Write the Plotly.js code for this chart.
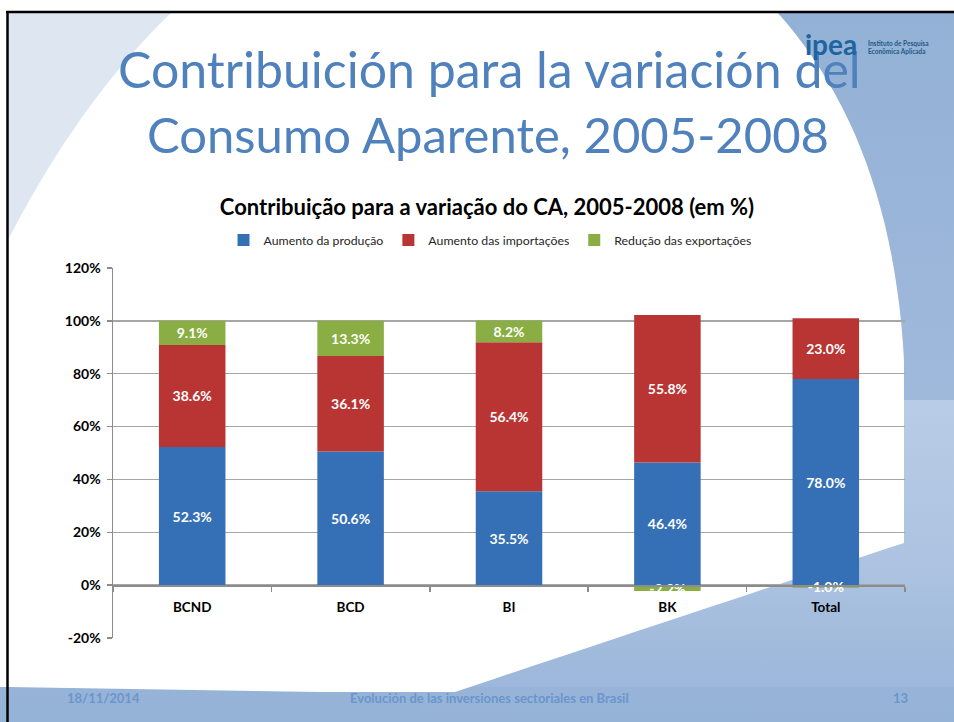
<!DOCTYPE html>
<html>
<head>
<meta charset="utf-8">
<script src="https://cdn.plot.ly/plotly-3.0.1.min.js"></script>
<style>
  html, body { margin: 0; padding: 0; background: #ffffff; }
  #chart { width: 954px; height: 722px; }
</style>
</head>
<body>
<div id="chart"></div>
<script>
// ---- Data ----
const categories = ['BCND', 'BCD', 'BI', 'BK', 'Total'];
const seriesNames = ['Aumento da produção', 'Aumento das importações', 'Redução das exportações'];
const producao = [52.3, 50.6, 35.5, 46.4, 78.0];
const importacoes = [38.6, 36.1, 56.4, 55.8, 23.0];
const exportacoes = [9.1, 13.3, 8.2, -2.2, -1.0];
const yTickValues = [-20, 0, 20, 40, 60, 80, 100, 120];

// ---- Styling / geometry ----
const FONT = 'Lato, Carlito, Calibri, "Open Sans", sans-serif';
const colors = ['#3570b7', '#b83534', '#8aae43'];
const L = 113, R = 905, T = 268, B = 638;
const px = x => (x - L) / (R - L);
const py = y => (B - y) / (B - T);

// ---- slide background (decoration) as an SVG image ----
function quad(p0, c, p1, n) {
  const pts = [];
  for (let i = 1; i <= n; i++) {
    const t = i / n, u = 1 - t;
    pts.push([u * u * p0[0] + 2 * u * t * c[0] + t * t * p1[0],
              u * u * p0[1] + 2 * u * t * c[1] + t * t * p1[1]]);
  }
  return pts;
}
const d = pts => 'M' + pts.map(p => p[0].toFixed(1) + ' ' + p[1].toFixed(1)).join(' L') + ' Z';

const wedgePts = [[904, 400], [954, 400], [954, 722], [420, 722], [420, 692]]
  .concat([[455, 692]]).concat(quad([455, 692], [700, 610], [904, 543], 24));
const whitePts = [[0, 0], [954, 0], [954, 12], [777, 12]]
  .concat(quad([777, 12], [892, 140], [904, 360], 24))
  .concat([[904, 543]])
  .concat(quad([904, 543], [700, 610], [455, 692], 24))
  .concat([[320, 692], [8, 687], [0, 687]]);
const leftPts = [[8, 12], [172, 12]].concat(quad([172, 12], [80, 100], [8, 240], 24));

const svg =
  "<svg xmlns='http://www.w3.org/2000/svg' width='954' height='722' viewBox='0 0 954 722'>" +
  "<defs>" +
  "<linearGradient id='gR' x1='0' y1='0' x2='0' y2='1'>" +
  "<stop offset='0' stop-color='#93b1d6'/><stop offset='0.55' stop-color='#9fb9db'/>" +
  "<stop offset='0.8' stop-color='#a9c0df'/><stop offset='1' stop-color='#95b3d7'/></linearGradient>" +
  "<linearGradient id='gW' x1='0' y1='0' x2='0' y2='1'>" +
  "<stop offset='0' stop-color='#b9cce6'/><stop offset='0.5' stop-color='#adc3e1'/>" +
  "<stop offset='1' stop-color='#97b4d8'/></linearGradient>" +
  "</defs>" +
  "<rect x='0' y='0' width='954' height='722' fill='url(#gR)'/>" +
  "<path d='" + d(wedgePts) + "' fill='url(#gW)'/>" +
  "<rect x='0' y='687' width='954' height='35' fill='#95b3d7' opacity='0.6'/>" +
  "<path d='" + d(whitePts) + "' fill='#ffffff'/>" +
  "<path d='" + d(leftPts) + "' fill='#dde6f1'/>" +
  "<path d='M6 12 H954' stroke='#000000' stroke-width='2.5' fill='none'/>" +
  "<path d='M7.5 11 V722' stroke='#000000' stroke-width='2.5' fill='none'/>" +
  "</svg>";

function barTrace(name, values, color) {
  return {
    type: 'bar',
    name: name,
    x: categories,
    y: values,
    marker: { color: color, line: { width: 0 } },
    texttemplate: '<b>%{y:.1f}%</b>',
    textposition: 'inside',
    insidetextanchor: 'middle',
    constraintext: 'none',
    textfont: { family: FONT, size: 14, color: '#ffffff' },
    insidetextfont: { family: FONT, size: 14, color: '#ffffff' },
    hoverinfo: 'skip'
  };
}

const data = [
  barTrace(seriesNames[0], producao, colors[0]),
  barTrace(seriesNames[1], importacoes, colors[1]),
  barTrace(seriesNames[2], exportacoes, colors[2])
];

const annotations = [
  { text: 'Contribuición para la variación del', xref: 'paper', yref: 'paper',
    x: px(489), y: py(69), xanchor: 'center', yanchor: 'middle', showarrow: false,
    font: { family: FONT, size: 50, color: '#4f81bd' } },
  { text: 'Consumo Aparente, 2005-2008', xref: 'paper', yref: 'paper',
    x: px(488), y: py(134), xanchor: 'center', yanchor: 'middle', showarrow: false,
    font: { family: FONT, size: 49, color: '#4f81bd' } },
  { text: '<b>ipea</b>', xref: 'paper', yref: 'paper',
    x: px(831), y: py(44), xanchor: 'center', yanchor: 'middle', showarrow: false, borderpad: 0,
    font: { family: FONT, size: 28, color: '#1d64a0' } },
  { text: '<b>Instituto de Pesquisa<br>Econômica Aplicada</b>', xref: 'paper', yref: 'paper',
    x: px(867), y: py(47), xanchor: 'left', yanchor: 'middle', align: 'left', showarrow: false, borderpad: 0,
    font: { family: FONT, size: 6.5, color: '#1f5a86' } },
  { text: '<b>18/11/2014</b>', xref: 'paper', yref: 'paper',
    x: px(65), y: py(698), xanchor: 'left', yanchor: 'middle', showarrow: false,
    font: { family: FONT, size: 13, color: '#6b95cd' } },
  { text: '<b>Evolución de las inversiones sectoriales en Brasil</b>', xref: 'paper', yref: 'paper',
    x: px(489), y: py(698), xanchor: 'center', yanchor: 'middle', showarrow: false,
    font: { family: FONT, size: 13, color: '#6b95cd' } },
  { text: '<b>13</b>', xref: 'paper', yref: 'paper',
    x: px(900), y: py(698), xanchor: 'center', yanchor: 'middle', showarrow: false,
    font: { family: FONT, size: 13, color: '#6b95cd' } }
];

const layout = {
  width: 954, height: 722, autosize: false,
  margin: { l: L, r: 954 - R, t: T, b: 722 - B, pad: 0 },
  paper_bgcolor: '#ffffff',
  plot_bgcolor: 'rgba(0,0,0,0)',
  barmode: 'relative',
  bargap: 0.58,
  font: { family: FONT, color: '#000000' },
  title: {
    text: '<b>Contribuição para a variação do CA, 2005-2008 (em %)</b>',
    font: { family: FONT, size: 22, color: '#000000' },
    xref: 'container', yref: 'container',
    x: 487 / 954, y: 1 - 207 / 722, xanchor: 'center', yanchor: 'middle'
  },
  showlegend: true,
  legend: {
    orientation: 'h', x: px(490), xanchor: 'center', y: py(240), yanchor: 'middle',
    font: { family: FONT, size: 12.3, color: '#262626' }, bgcolor: 'rgba(0,0,0,0)',
    traceorder: 'normal', itemwidth: 30
  },
  xaxis: {
    type: 'category',
    anchor: 'free',
    position: 20 / 140,
    showline: true, linecolor: '#8c8c8c', linewidth: 1.5,
    ticks: 'outside', tickson: 'boundaries', ticklen: 5, tickcolor: '#8c8c8c', tickwidth: 1.5,
    showgrid: false, zeroline: false,
    tickfont: { family: FONT, size: 13.5, color: '#000000' },
    ticklabelstandoff: 9,
    tickprefix: '<b>', ticksuffix: '</b>'
  },
  yaxis: {
    range: [-20, 120],
    tickvals: yTickValues,
    ticktext: yTickValues.map(v => '<b>' + v + '%</b>'),
    showline: true, linecolor: '#8c8c8c', linewidth: 1.5,
    ticks: 'outside', ticklen: 5, tickcolor: '#8c8c8c', tickwidth: 1.5,
    showgrid: true, gridcolor: '#a6a6a6', gridwidth: 1.3,
    zeroline: false,
    tickfont: { family: FONT, size: 14, color: '#000000' },
    ticklabelstandoff: 3
  },
  images: [{
    source: 'data:image/svg+xml;charset=utf-8,' + encodeURIComponent(svg),
    xref: 'paper', yref: 'paper',
    x: px(0), y: py(0), sizex: 954 / (R - L), sizey: 722 / (B - T),
    xanchor: 'left', yanchor: 'top', sizing: 'stretch', layer: 'below'
  }],
  annotations: annotations
};

Plotly.newPlot('chart', data, layout, { displayModeBar: false, staticPlot: true });
</script>
</body>
</html>
